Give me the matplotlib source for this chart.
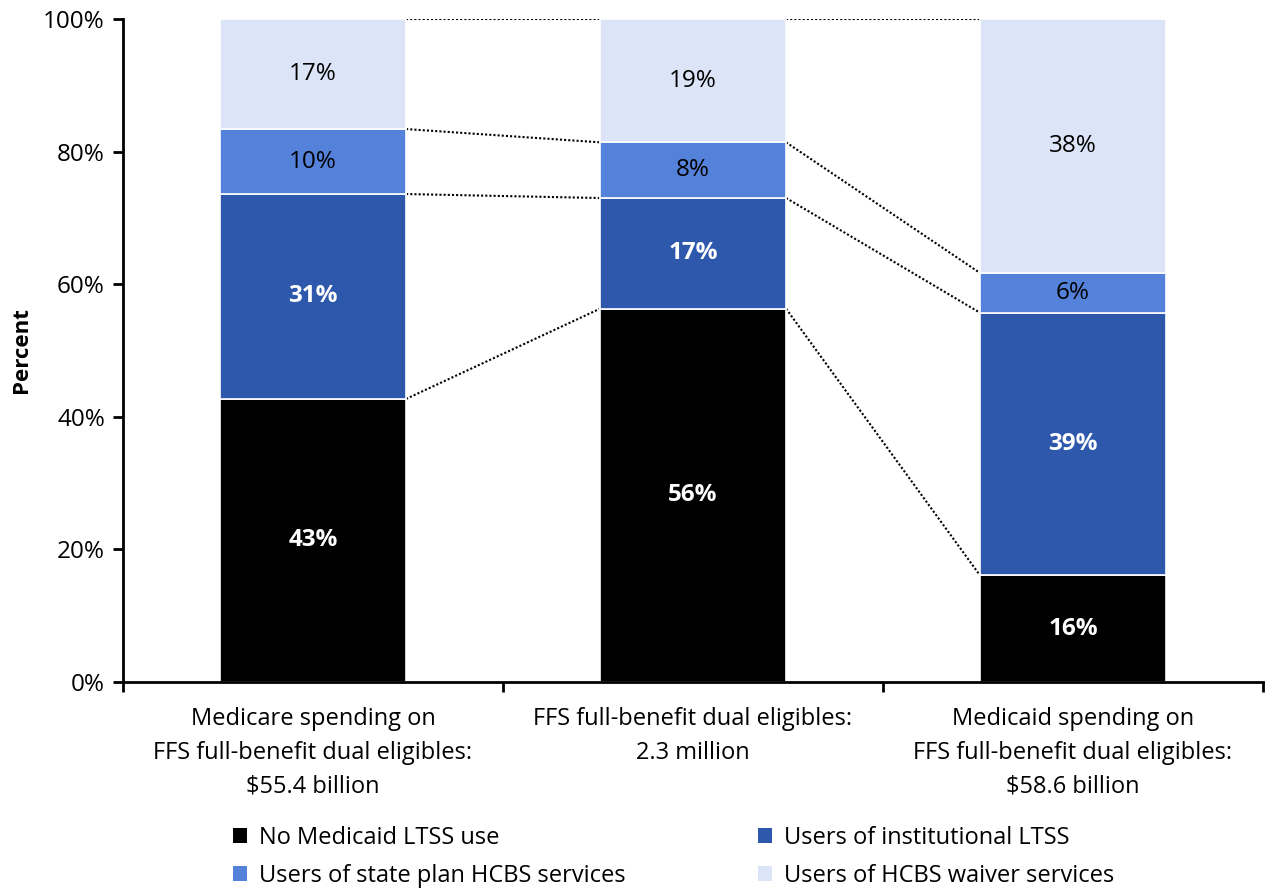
import matplotlib.pyplot as plt
from matplotlib.patches import Patch

plt.rcParams['font.family'] = ['Open Sans', 'DejaVu Sans']

categories = [
    'Medicare spending on\nFFS full-benefit dual eligibles:\n$55.4 billion',
    'FFS full-benefit dual eligibles:\n2.3 million',
    'Medicaid spending on\nFFS full-benefit dual eligibles:\n$58.6 billion',
]
series_names = [
    'No Medicaid LTSS use',
    'Users of institutional LTSS',
    'Users of state plan HCBS services',
    'Users of HCBS waiver services',
]
no_ltss = [42.7, 56.3, 16.1]
institutional = [30.9, 16.7, 39.6]
state_plan = [9.8, 8.4, 6.0]
waiver = [16.6, 18.6, 38.3]
labels = [
    ['43%', '56%', '16%'],
    ['31%', '17%', '39%'],
    ['10%', '8%', '6%'],
    ['17%', '19%', '38%'],
]

colors = ['#000000', '#2E58AC', '#5482DB', '#DCE5F7']
text_colors = ['white', 'white', 'black', 'black']
text_weights = ['bold', 'bold', 'normal', 'normal']

fig = plt.figure(figsize=(12.65, 8.92), dpi=100)
ax = fig.add_axes([123 / 1265, 1 - 682 / 892, 1140 / 1265, 663 / 892])

x = list(range(len(categories)))
width = 0.49
series = [no_ltss, institutional, state_plan, waiver]
bottoms = [0.0] * len(categories)
tops_by_series = []
for s, vals in enumerate(series):
    ax.bar(x, vals, width, bottom=bottoms, color=colors[s],
           edgecolor='white', linewidth=1.2, zorder=2)
    for i, v in enumerate(vals):
        ax.text(x[i], bottoms[i] + v / 2, labels[s][i], ha='center', va='center',
                color=text_colors[s], fontweight=text_weights[s], fontsize=17.5)
    bottoms = [b + v for b, v in zip(bottoms, vals)]
    tops_by_series.append(list(bottoms))

# dotted connector lines between adjacent bars
for tops in tops_by_series:
    for i in range(len(categories) - 1):
        ax.plot([x[i] + width / 2, x[i + 1] - width / 2], [tops[i], tops[i + 1]],
                color='black', linestyle=(0, (1, 1)), linewidth=1.5, zorder=1)

ax.set_xlim(-0.5, len(categories) - 0.5)
ax.set_ylim(0, 100)
ax.set_yticks(range(0, 101, 20))
ax.set_yticklabels([f'{t}%' for t in range(0, 101, 20)], fontsize=17.5)
ax.set_xticks(x)
ax.set_xticklabels(categories, fontsize=17, linespacing=1.55)
ax.tick_params(axis='x', length=0, pad=18)
ax.set_xticks([-0.5, 0.5, 1.5, 2.5], minor=True)
ax.tick_params(axis='x', which='minor', length=7, width=2, direction='out')
ax.tick_params(axis='y', length=7, width=2, direction='out', pad=6)
ax.set_ylabel('Percent', fontsize=16, fontweight='bold', labelpad=8)
for side in ['top', 'right']:
    ax.spines[side].set_visible(False)
for side in ['left', 'bottom']:
    ax.spines[side].set_linewidth(2)

handles = [Patch(facecolor=c, label=n) for c, n in zip(colors, series_names)]
order = [0, 2, 1, 3]
fig.legend([handles[k] for k in order], [series_names[k] for k in order],
           ncol=2, loc='center left', bbox_to_anchor=(212 / 1265, 1 - 857 / 892),
           frameon=False, fontsize=17, handlelength=0.6, handleheight=0.6,
           handletextpad=0.5, columnspacing=5.6, labelspacing=0.6)

fig.savefig('out.png', dpi=100)
